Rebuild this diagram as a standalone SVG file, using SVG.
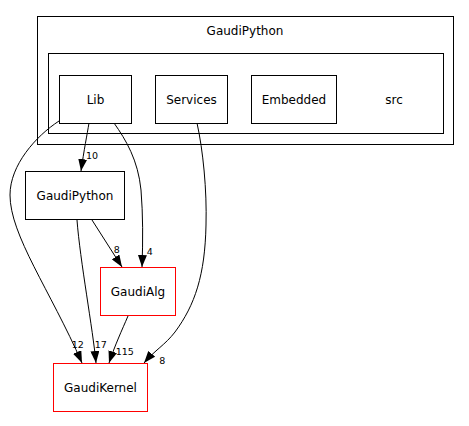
<svg xmlns="http://www.w3.org/2000/svg" width="469" height="426" viewBox="0 0 469 426">
<defs>
<style>
.box{fill:none;stroke:#000;stroke-width:1}
.red{fill:none;stroke:#ff0000;stroke-width:1}
.lbl{font-family:"DejaVu Sans",sans-serif;font-size:12px;fill:#000;text-anchor:middle}
.elbl{font-family:"DejaVu Sans",sans-serif;font-size:9.5px;fill:#000;text-anchor:middle}
.edge{fill:none;stroke:#000;stroke-width:1}
</style>
<marker id="arr" viewBox="0 0 12 9" refX="12" refY="4.5" markerWidth="12" markerHeight="9" markerUnits="userSpaceOnUse" orient="auto">
<path d="M0,0 L12,4.5 L0,9 z" fill="#000"/>
</marker>
</defs>
<rect width="469" height="426" fill="#fff"/>
<g id="cluster_GaudiPython">
<rect class="box" x="37.5" y="16.5" width="416" height="128"/>
<text class="lbl" x="245" y="35">GaudiPython</text>
</g>
<g id="cluster_src">
<rect class="box" x="48.5" y="53.5" width="395" height="80"/>
<text class="lbl" x="394" y="104">src</text>
</g>
<g id="node_Lib">
<rect class="box" x="59.5" y="75.5" width="72" height="48"/>
<text class="lbl" x="95.5" y="104">Lib</text>
</g>
<g id="node_Services">
<rect class="box" x="155.5" y="75.5" width="72" height="48"/>
<text class="lbl" x="191.5" y="104">Services</text>
</g>
<g id="node_Embedded">
<rect class="box" x="251.5" y="75.5" width="85" height="48"/>
<text class="lbl" x="294" y="104">Embedded</text>
</g>
<g id="node_GaudiPython">
<rect class="box" x="25.5" y="171.5" width="99" height="48"/>
<text class="lbl" x="75" y="200">GaudiPython</text>
</g>
<g id="node_GaudiAlg">
<rect class="red" x="100.5" y="267.5" width="75" height="48"/>
<text class="lbl" x="138" y="296">GaudiAlg</text>
</g>
<g id="node_GaudiKernel">
<rect class="red" x="53.5" y="363.5" width="94" height="48"/>
<text class="lbl" x="100.5" y="392">GaudiKernel</text>
</g>
<g id="edges">
<path class="edge" marker-end="url(#arr)" d="M89,123 C87,135 84,150 81,171"/>
<text class="elbl" x="92" y="159">10</text>
<path class="edge" marker-end="url(#arr)" d="M59,121 C36,136 10,165 10,195 C10,235 50,290 82,363"/>
<text class="elbl" x="77.7" y="347.5">12</text>
<path class="edge" marker-end="url(#arr)" d="M114,123 C126,140 138,160 141,190 C143,215 143,240 142,267"/>
<text class="elbl" x="149.7" y="255">4</text>
<path class="edge" marker-end="url(#arr)" d="M197,123 C203,150 207,190 206,225 C205,275 195,305 175,332 C165,345 155,350 144,363"/>
<text class="elbl" x="162.2" y="364">8</text>
<path class="edge" marker-end="url(#arr)" d="M92,220 L122,267"/>
<text class="elbl" x="116.7" y="252.5">8</text>
<path class="edge" marker-end="url(#arr)" d="M77,220 C80,260 93,330 96,363"/>
<text class="elbl" x="100.8" y="347.5">17</text>
<path class="edge" marker-end="url(#arr)" d="M128,316 C122,330 115,345 109,363"/>
<text class="elbl" x="124.7" y="355">115</text>
</g>
</svg>
